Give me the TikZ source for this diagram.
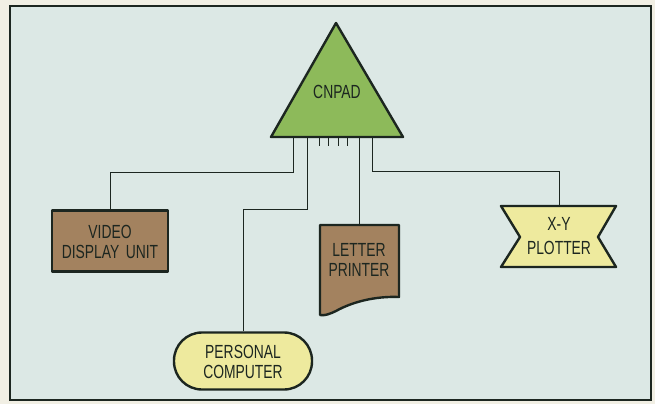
\documentclass[tikz,border=0pt]{standalone}
\usepackage{fontspec}
\setmainfont{Liberation Sans}[FakeStretch=0.73]
\definecolor{outerbg}{HTML}{F1EFE4}
\definecolor{innerbg}{HTML}{DCE8E5}
\definecolor{ink}{HTML}{1C2620}
\definecolor{trigreen}{HTML}{8DBA5A}
\definecolor{boxbrown}{HTML}{A3825F}
\definecolor{paleyellow}{HTML}{EEEA9E}
\tikzset{
  shapeline/.style={draw=ink, line width=2.4pt, line join=round},
  wire/.style={draw=ink, line width=1pt},
  lbl/.style={text=ink, font=\fontsize{19}{19.5}\selectfont, align=center, inner sep=0pt},
}
\begin{document}
\begin{tikzpicture}[x=1pt,y=-1pt]
\useasboundingbox (0,0) rectangle (655,404);
\fill[outerbg] (0,0) rectangle (655,404);
\filldraw[fill=innerbg, draw=ink, line width=1.4pt] (10,6) rectangle (651,400);

% CNPAD triangle
\filldraw[shapeline, fill=trigreen] (336,23) -- (403,137) -- (271,137) -- cycle;
\node[lbl] (cnpad) at (337,92) {CNPAD};
\coordinate (t1) at (293,137);
\coordinate (t2) at (307,137);
\coordinate (t3) at (359,137);
\coordinate (t4) at (372,137);
\foreach \x/\n in {319/s1,328.5/s2,338/s3,347/s4}{
  \coordinate (\n) at (\x,137);
  \coordinate (\n e) at (\x,146);
  \draw[wire] (\n) -- (\n e);
}

% Video display unit
\node[shapeline, fill=boxbrown, minimum width=116pt, minimum height=61pt, inner sep=0pt] (vdu) at (110,241) {};
\node[lbl, text width=116pt] (vdut) at (110,242) {VIDEO\\DISPLAY UNIT};

% Personal computer
\node[shapeline, fill=paleyellow, minimum width=138pt, minimum height=57pt, rounded corners=28pt, inner sep=0pt] (pc) at (243,361) {};
\node[lbl] (pct) at (243,362) {PERSONAL\\COMPUTER};

% Letter printer
\filldraw[shapeline, fill=boxbrown] (320,225) -- (399,225) -- (399,297)
  .. controls (375,296) and (352,302) .. (336,311)
  .. controls (330,314) and (324,316) .. (320,315) -- cycle;
\coordinate (lp) at (359,225);
\node[lbl, font=\fontsize{19}{20.5}\selectfont] (lpt) at (359,260) {LETTER\\PRINTER};

% X-Y plotter
\filldraw[shapeline, fill=paleyellow] (501,206) -- (616,206) -- (598,237) -- (616,267) -- (501,267) -- (520,237) -- cycle;
\coordinate (xy) at (559,206);
\node[lbl, font=\fontsize{19}{23.5}\selectfont] (xyt) at (559,236) {X-Y\\PLOTTER};

% connectors
\coordinate (b1) at (110,172);
\coordinate (b2) at (243,209);
\coordinate (b4) at (559,171);
\draw[wire] (t1) |- (b1) -- (vdu.north);
\draw[wire] (t2) |- (b2) -- (pc.north);
\draw[wire] (t3) -- (lp);
\draw[wire] (t4) |- (b4) -- (xy);
\end{tikzpicture}
\end{document}
